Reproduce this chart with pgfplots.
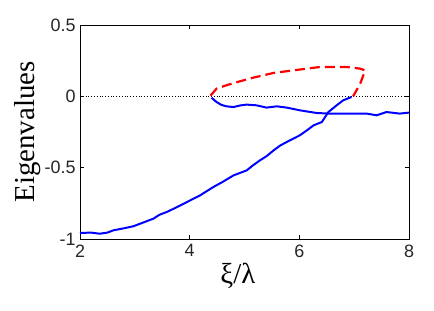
\documentclass[border=0pt]{standalone}
\usepackage{fontspec}
\setmainfont{Liberation Serif}
\newfontfamily\ticks{Liberation Sans}
\usepackage{pgfplots}
\pgfplotsset{compat=1.18}
\begin{document}
\begin{tikzpicture}[x=1bp,y=1bp]
\path[use as bounding box] (0,0) rectangle (434,310);
\begin{axis}[
  at={(80bp,71bp)}, anchor=south west,
  scale only axis, width=329bp, height=214bp,
  xmin=2, xmax=8, ymin=-1, ymax=0.5,
  xtick={2,4,6,8}, ytick={-1,-0.5,0,0.5},
  xticklabels={2,4,6,8}, yticklabels={-1,-0.5,0,0.5},
  tick align=inside, major tick length=4bp,
  xtick pos=both, ytick pos=both,
  tick label style={font=\ticks\fontsize{18}{18}\selectfont, text=black!85},
  xticklabel style={yshift=-2bp},
  yticklabel style={xshift=-1bp},
  axis line style={line width=0.8pt},
  every tick/.style={black, line width=0.6pt},
  xlabel={\fontsize{29}{29}\selectfont ξ/λ},
  ylabel={\fontsize{29}{29}\selectfont Eigenvalues},
  xlabel style={at={(axis description cs:0.48,0)}, anchor=north, yshift=-21bp},
  ylabel style={at={(axis description cs:0,0.5)}, anchor=south, xshift=0bp, yshift=36bp},
  clip=false,
]
\addplot[black, dotted, line width=0.8pt] coordinates {(2,0) (8,0)};
\addplot[blue, line width=2pt] coordinates {
(2,-0.958) (2.2,-0.955) (2.36,-0.963) (2.5,-0.955) (2.61,-0.939) (2.8,-0.925) (2.97,-0.911)
(3.15,-0.885) (3.34,-0.857) (3.45,-0.830) (3.58,-0.811) (3.75,-0.780) (3.95,-0.741) (4.19,-0.694)
(4.43,-0.636) (4.6,-0.600) (4.80,-0.554) (5.04,-0.519) (5.15,-0.485) (5.28,-0.449) (5.4,-0.420)
(5.53,-0.379) (5.65,-0.345) (5.77,-0.320) (6.01,-0.273) (6.15,-0.235) (6.26,-0.203) (6.41,-0.180)
(6.53,-0.110) (6.68,-0.063) (6.80,-0.028) (6.95,-0.005)};
\addplot[blue, line width=2pt] coordinates {
(4.40,-0.01) (4.49,-0.04) (4.58,-0.06) (4.67,-0.07) (4.80,-0.075) (4.92,-0.064) (5.04,-0.058)
(5.22,-0.063) (5.40,-0.079) (5.59,-0.07) (5.77,-0.079) (6.01,-0.098) (6.32,-0.117) (6.56,-0.121)
(6.86,-0.121) (7.23,-0.121) (7.41,-0.133) (7.59,-0.110) (7.83,-0.121) (8.0,-0.114)};
\addplot[red, line width=2.2pt, dash pattern=on 10bp off 5bp] coordinates {
(4.38,0.005) (4.49,0.054) (4.65,0.075) (4.80,0.093) (5.16,0.131) (5.53,0.164) (5.89,0.182)
(6.38,0.206) (6.86,0.206) (7.11,0.194) (7.20,0.182) (7.11,0.089) (6.98,0.0)};
\end{axis}
\end{tikzpicture}
\end{document}
